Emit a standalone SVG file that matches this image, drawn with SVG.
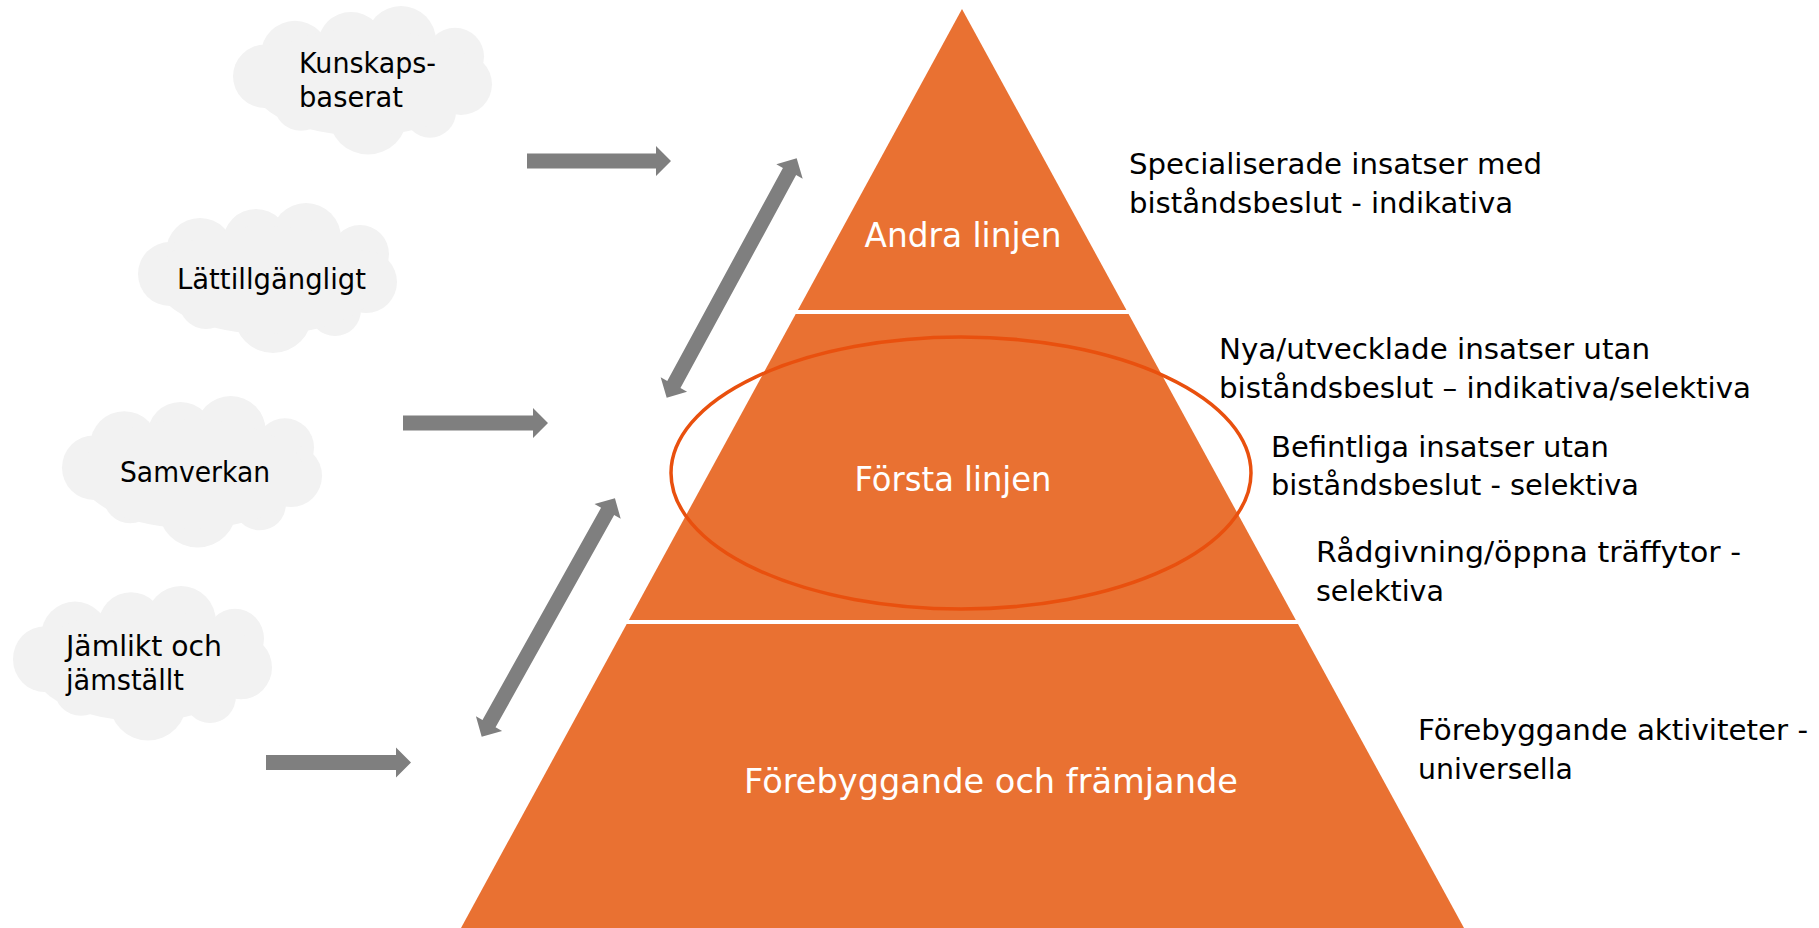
<svg xmlns="http://www.w3.org/2000/svg" width="1819" height="928" viewBox="0 0 1819 928">
<style>
.lvl{fill:#E97132}
.ring{fill:none;stroke:#E9500E;stroke-width:3.5}
.wt{font-family:"DejaVu Sans","Liberation Sans",sans-serif;font-size:33px;fill:#FFFFFF;text-anchor:middle}
.bt{font-family:"DejaVu Sans","Liberation Sans",sans-serif;font-size:28px;fill:#000000}
.cloud{fill:#F2F2F2}
.arr{fill:#7F7F7F}
</style>
<defs>
<g id="cloudShape">
<circle cx="62" cy="50" r="34"/>
<circle cx="118" cy="40" r="33"/>
<circle cx="168" cy="36" r="35"/>
<circle cx="222" cy="52" r="29"/>
<circle cx="228" cy="80" r="31"/>
<circle cx="197" cy="108" r="26"/>
<circle cx="135" cy="112" r="39"/>
<circle cx="68" cy="100" r="27"/>
<circle cx="32" cy="72" r="32"/>
<ellipse cx="130" cy="78" rx="112" ry="54"/>
</g>
</defs>
<rect width="1819" height="928" fill="#FFFFFF"/>

<g id="level-andra">
<polygon class="lvl" points="962,9 1126.4,310 797.9,310"/>
<text class="wt" x="963" y="247" textLength="197" lengthAdjust="spacingAndGlyphs">Andra linjen</text>
</g>
<g id="level-forsta">
<polygon class="lvl" points="795.7,314 1128.6,314 1295.8,620 628.9,620"/>
<ellipse class="ring" cx="961" cy="473" rx="290" ry="136"/>
<text class="wt" x="953" y="491" textLength="197" lengthAdjust="spacingAndGlyphs">Första linjen</text>
</g>
<g id="level-forebyggande">
<polygon class="lvl" points="626.7,624 1298,624 1464,928 461,928"/>
<text class="wt" x="991" y="793" textLength="494" lengthAdjust="spacingAndGlyphs">Förebyggande och främjande</text>
</g>

<g id="cloud-kunskapsbaserat">
<use href="#cloudShape" class="cloud" transform="translate(233,5) scale(1,0.99)"/>
<text class="bt"><tspan x="299" y="73" textLength="137" lengthAdjust="spacingAndGlyphs">Kunskaps-</tspan><tspan x="299" y="107" textLength="104" lengthAdjust="spacingAndGlyphs">baserat</tspan></text>
</g>
<g id="cloud-lattillgangligt">
<use href="#cloudShape" class="cloud" transform="translate(138,202)"/>
<text class="bt" x="177" y="289" textLength="189" lengthAdjust="spacingAndGlyphs">Lättillgängligt</text>
</g>
<g id="cloud-samverkan">
<use href="#cloudShape" class="cloud" transform="translate(62,395) scale(1.004,1.01)"/>
<text class="bt" x="120" y="482" textLength="150" lengthAdjust="spacingAndGlyphs">Samverkan</text>
</g>
<g id="cloud-jamlikt">
<use href="#cloudShape" class="cloud" transform="translate(13,585) scale(1,1.03)"/>
<text class="bt"><tspan x="66" y="656" textLength="156" lengthAdjust="spacingAndGlyphs">Jämlikt och</tspan><tspan x="66" y="690" textLength="118" lengthAdjust="spacingAndGlyphs">jämställt</tspan></text>
</g>

<g id="label-specialiserade">
<text class="bt"><tspan x="1129" y="174" textLength="413" lengthAdjust="spacingAndGlyphs">Specialiserade insatser med</tspan><tspan x="1129" y="213" textLength="384" lengthAdjust="spacingAndGlyphs">biståndsbeslut - indikativa</tspan></text>
</g>
<g id="label-nya">
<text class="bt"><tspan x="1219" y="359" textLength="431" lengthAdjust="spacingAndGlyphs">Nya/utvecklade insatser utan</tspan><tspan x="1219" y="398" textLength="532" lengthAdjust="spacingAndGlyphs">biståndsbeslut – indikativa/selektiva</tspan></text>
</g>
<g id="label-befintliga">
<text class="bt"><tspan x="1271" y="457" textLength="338" lengthAdjust="spacingAndGlyphs">Befintliga insatser utan</tspan><tspan x="1271" y="495" textLength="368" lengthAdjust="spacingAndGlyphs">biståndsbeslut - selektiva</tspan></text>
</g>
<g id="label-radgivning">
<text class="bt"><tspan x="1316" y="562" textLength="425" lengthAdjust="spacingAndGlyphs">Rådgivning/öppna träffytor -</tspan><tspan x="1316" y="601" textLength="128" lengthAdjust="spacingAndGlyphs">selektiva</tspan></text>
</g>
<g id="label-forebyggande">
<text class="bt"><tspan x="1418" y="740" textLength="390" lengthAdjust="spacingAndGlyphs">Förebyggande aktiviteter -</tspan><tspan x="1418" y="779" textLength="155" lengthAdjust="spacingAndGlyphs">universella</tspan></text>
</g>

<g id="connectors">
<polygon class="arr" points="527,153.5 656,153.5 656,146 671,161 656,176 656,168.5 527,168.5"/>
<polygon class="arr" points="403,415.5 533,415.5 533,408 548,423 533,438 533,430.5 403,430.5"/>
<polygon class="arr" points="266,755 396,755 396,747.5 411,762.5 396,777.5 396,770 266,770"/>
<polygon class="arr" points="0,0 15,-15 15,-7.5 257.4,-7.5 257.4,-15 272.4,0 257.4,15 257.4,7.5 15,7.5 15,15" transform="translate(666.7,397.7) rotate(-61.5)"/>
<polygon class="arr" points="0,0 15,-15 15,-7.5 258.1,-7.5 258.1,-15 273.1,0 258.1,15 258.1,7.5 15,7.5 15,15" transform="translate(481.7,736.7) rotate(-60.8)"/>
</g>
</svg>
